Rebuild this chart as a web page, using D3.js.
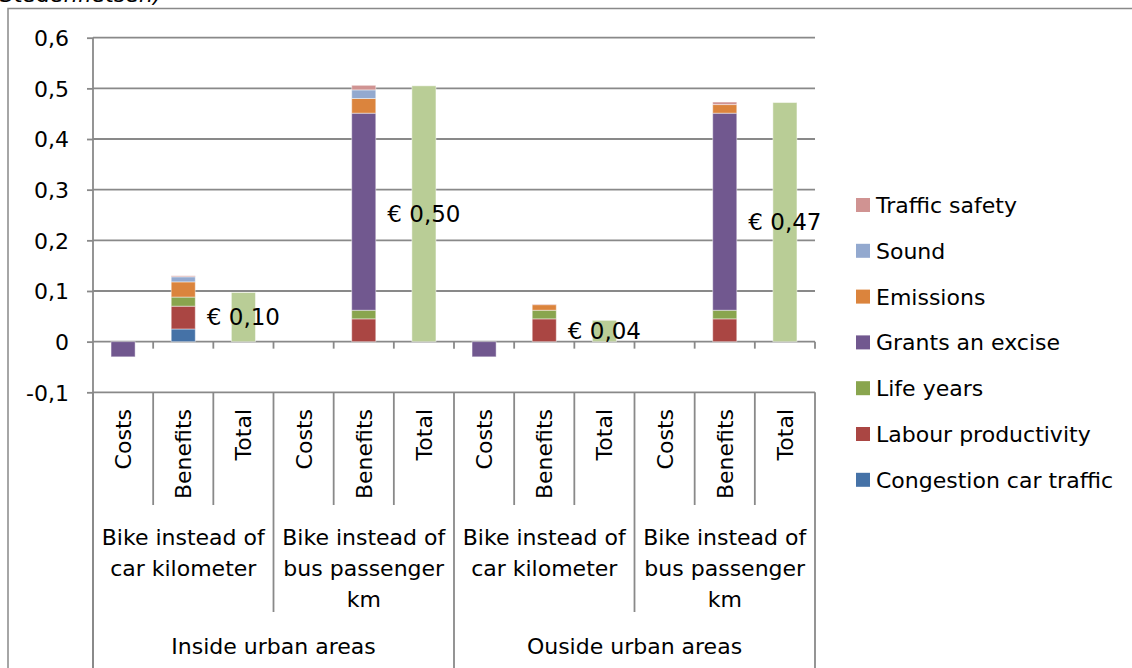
<!DOCTYPE html>
<html>
<head>
<meta charset="utf-8">
<script src="https://cdn.jsdelivr.net/npm/d3@7"></script>
<style>
  html, body { margin: 0; padding: 0; background: #fff; }
  svg { display: block; }
  text { font-family: "DejaVu Sans", Verdana, sans-serif; fill: #000; }
</style>
</head>
<body>
<svg id="chart" width="1132" height="668"></svg>
<script>
// ---------- DATA ----------
const level1 = ["Costs", "Benefits", "Total", "Costs", "Benefits", "Total",
                "Costs", "Benefits", "Total", "Costs", "Benefits", "Total"];
const level2 = [["Bike instead of", "car kilometer"],
                ["Bike instead of", "bus passenger", "km"],
                ["Bike instead of", "car kilometer"],
                ["Bike instead of", "bus passenger", "km"]];
const level3 = ["Inside urban areas", "Ouside urban areas"];

const seriesNames = ["Congestion car traffic", "Labour productivity", "Life years",
                     "Grants an excise", "Emissions", "Sound", "Traffic safety"];
const congestion    = [0, 0.025, 0, 0, 0,     0, 0,     0,     0, 0, 0,     0];
const labour        = [0, 0.045, 0, 0, 0.045, 0, 0,     0.045, 0, 0, 0.045, 0];
const lifeYears     = [0, 0.018, 0, 0, 0.017, 0, 0,     0.017, 0, 0, 0.017, 0];
const grants        = [-0.03, 0, 0, 0, 0.389, 0, -0.03, 0,     0, 0, 0.389, 0];
const emissions     = [0, 0.030, 0, 0, 0.029, 0, 0,     0.011, 0, 0, 0.017, 0];
const sound         = [0, 0.010, 0, 0, 0.017, 0, 0,     0,     0, 0, 0,     0];
const trafficSafety = [0, 0.002, 0, 0, 0.009, 0, 0,     0.001, 0, 0, 0.005, 0];
const total         = [0, 0, 0.097, 0, 0, 0.505, 0, 0, 0.042, 0, 0, 0.472];
const totalLabels   = ["€ 0,10", "€ 0,50", "€ 0,04", "€ 0,47"];

const yTicks = [-0.1, 0, 0.1, 0.2, 0.3, 0.4, 0.5, 0.6];
const yTickLabels = ["-0,1", "0", "0,1", "0,2", "0,3", "0,4", "0,5", "0,6"];

const colors = ["#4572a7", "#aa4643", "#89a54e", "#71588f", "#db843d", "#93a9cf", "#d09392"];
const totalColor = "#b9cd96";

// ---------- BUILD ----------
const svg = d3.select("#chart");
const W = 1132, H = 668;
const pLeft = 93, pRight = 815, pTop = 37.7, pBottom = 392.3;
const gridColor = "#898989";

const seriesArrays = [congestion, labour, lifeYears, grants, emissions, sound, trafficSafety, total];
const keys = seriesNames.concat(["Total"]);
const table = level1.map((c, i) => {
  const row = { idx: i };
  keys.forEach((k, j) => row[k] = seriesArrays[j][i]);
  return row;
});

const x = d3.scaleBand().domain(d3.range(level1.length)).range([pLeft, pRight]).paddingInner(0).paddingOuter(0);
const y = d3.scaleLinear().domain([-0.1, 0.6]).range([pBottom, pTop]);
const bw = x.bandwidth();
const barW = bw * 0.4;

// outer chart border
svg.append("rect").attr("x", 8).attr("y", 8.5).attr("width", W + 20).attr("height", H + 20)
  .attr("fill", "none").attr("stroke", gridColor).attr("stroke-width", 1.5);

// clipped caption text at very top
svg.append("text").attr("x", 0).attr("y", 2).attr("font-size", 22).attr("font-style", "italic")
  .text("Stedenfietsen)");

// gridlines
svg.append("g").selectAll("line").data(yTicks.filter(t => t > -0.1)).join("line")
  .attr("x1", pLeft).attr("x2", pRight).attr("y1", d => y(d)).attr("y2", d => y(d))
  .attr("stroke", gridColor).attr("stroke-width", 1.8);

// y axis
const yAxis = d3.axisLeft(y).tickValues(yTicks).tickSize(6).tickPadding(18)
  .tickFormat((d, i) => yTickLabels[i]);
const ya = svg.append("g").attr("transform", `translate(${pLeft},0)`).call(yAxis);
ya.select(".domain").remove();
ya.selectAll(".tick line").attr("stroke", gridColor).attr("stroke-width", 1.8);
ya.selectAll(".tick text").attr("font-size", 22).attr("font-family", "DejaVu Sans").attr("fill", "#000")
  .attr("dy", "0.36em");
svg.append("line").attr("x1", pLeft).attr("x2", pLeft).attr("y1", pTop).attr("y2", H + 5)
  .attr("stroke", gridColor).attr("stroke-width", 1.8);

// bars
const stack = d3.stack().keys(keys).offset(d3.stackOffsetDiverging);
const stacked = stack(table);
const allColors = colors.concat([totalColor]);
const barsG = svg.append("g");
stacked.forEach((layer, li) => {
  barsG.append("g").attr("fill", allColors[li]).selectAll("rect")
    .data(layer.filter(d => d[1] - d[0] !== 0)).join("rect")
    .attr("x", d => x(d.data.idx) + (bw - barW) / 2)
    .attr("width", barW)
    .attr("y", d => y(Math.max(d[0], d[1])))
    .attr("height", d => Math.abs(y(d[0]) - y(d[1])))
    .attr("stroke", "rgba(255,255,255,0.45)").attr("stroke-width", 1);
});

// zero-line category ticks
svg.append("g").selectAll("line").data(d3.range(1, level1.length + 1)).join("line")
  .attr("x1", d => pLeft + d * bw).attr("x2", d => pLeft + d * bw)
  .attr("y1", y(0)).attr("y2", y(0) + 7)
  .attr("stroke", gridColor).attr("stroke-width", 1.8);

// bottom axis line
svg.append("line").attr("x1", pLeft).attr("x2", pRight).attr("y1", pBottom).attr("y2", pBottom)
  .attr("stroke", gridColor).attr("stroke-width", 1.8);

// total labels
const totalIdx = total.map((v, i) => v !== 0 ? i : -1).filter(i => i >= 0);
svg.append("g").selectAll("text").data(totalIdx).join("text")
  .attr("x", d => x(d) + bw / 2)
  .attr("y", d => (y(0) + y(total[d])) / 2)
  .attr("dy", "0.36em")
  .attr("text-anchor", "middle").attr("font-size", 23)
  .text((d, i) => totalLabels[i]);

// multi-level category separators
for (let i = 0; i <= level1.length; i++) {
  let yEnd;
  if (i % 6 === 0) yEnd = H + 5;
  else if (i % 3 === 0) yEnd = 612;
  else yEnd = 505;
  svg.append("line").attr("x1", pLeft + i * bw).attr("x2", pLeft + i * bw)
    .attr("y1", pBottom).attr("y2", yEnd)
    .attr("stroke", gridColor).attr("stroke-width", 1.8);
}

// level1 rotated labels
svg.append("g").selectAll("text").data(level1).join("text")
  .attr("transform", (d, i) => `translate(${x(i) + bw / 2},409) rotate(-90)`)
  .attr("text-anchor", "end").attr("dy", "0.36em").attr("font-size", 22)
  .text(d => d);

// level2 labels
level2.forEach((lines, g) => {
  const cx = pLeft + (g * 3 + 1.5) * bw;
  lines.forEach((ln, k) => {
    svg.append("text").attr("x", cx).attr("y", 545 + k * 31)
      .attr("text-anchor", "middle").attr("font-size", 22).text(ln);
  });
});

// level3 labels
level3.forEach((t, g) => {
  svg.append("text").attr("x", pLeft + (g * 6 + 3) * bw).attr("y", 654)
    .attr("text-anchor", "middle").attr("font-size", 22).text(t);
});

// legend
const legendOrder = d3.range(seriesNames.length).reverse();
const lg = svg.append("g");
legendOrder.forEach((si, r) => {
  const cy = 205 + r * 45.8;
  lg.append("rect").attr("x", 856).attr("y", cy - 7).attr("width", 14).attr("height", 14)
    .attr("fill", colors[si]);
  lg.append("text").attr("x", 876).attr("y", cy).attr("dy", "0.36em").attr("font-size", 22)
    .text(seriesNames[si]);
});
</script>
</body>
</html>
